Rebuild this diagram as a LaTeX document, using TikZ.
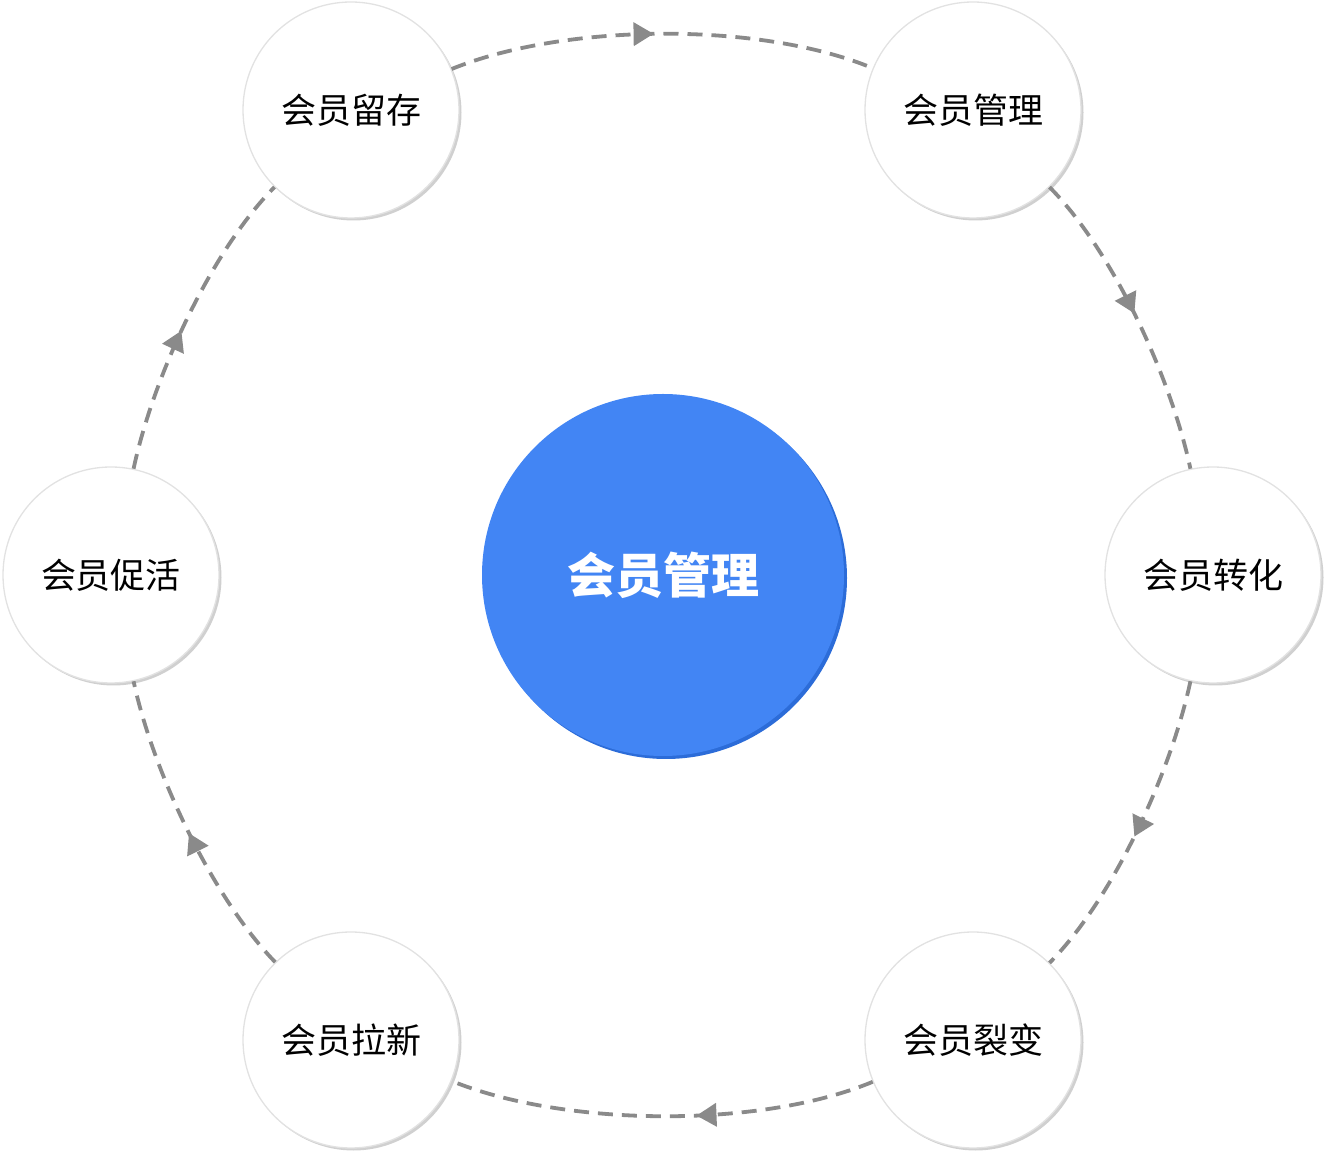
\documentclass[tikz,border=0pt]{standalone}
\usepackage{fontspec}
\setmainfont{Noto Sans CJK SC}
\usetikzlibrary{arrows.meta,decorations.markings,shadows}
\definecolor{ringgray}{HTML}{8A8A8A}
\definecolor{bordergray}{HTML}{E2E2E2}
\definecolor{shadowgray}{HTML}{D0D0D0}
\definecolor{mainblue}{HTML}{4285F4}
\definecolor{darkblue}{HTML}{2C6CD8}
\tikzset{
  stagenode/.style={circle, minimum size=216pt, inner sep=0pt, fill=white,
    draw=bordergray, line width=1.3pt,
    general shadow={shadow xshift=2.5pt, shadow yshift=-2.5pt, fill=shadowgray},
    font=\fontsize{35pt}{35pt}\selectfont, text=black},
  hubnode/.style={circle, minimum size=362pt, inner sep=0pt, fill=mainblue,
    general shadow={shadow xshift=3pt, shadow yshift=-3pt, fill=darkblue},
    font=\bfseries\fontsize{48pt}{48pt}\selectfont, text=white},
  flow/.style={draw=ringgray, line width=3.8pt, dash pattern=on 15pt off 9pt,
    looseness=0.74,
    postaction={decorate},
    decoration={markings, mark=at position #1 with
      {\arrow{Triangle[width=23pt,length=20pt,fill=ringgray,color=ringgray]}}}}
}
\begin{document}
\begin{tikzpicture}[x=1pt,y=1pt]
\useasboundingbox (0,0) rectangle (1326,1152);
\node[hubnode] (hub) at (663,577) {会员管理};
\node[stagenode] (liucun) at (351,1042) {会员留存};
\node[stagenode] (guanli) at (973,1042) {会员管理};
\node[stagenode] (zhuanhua) at (1213,577) {会员转化};
\node[stagenode] (liebian) at (973,112) {会员裂变};
\node[stagenode] (laxin) at (351,112) {会员拉新};
\node[stagenode] (cuhuo) at (111,577) {会员促活};
\path[flow=0.48] (liucun) to[out=22.3, in=157.7] (guanli);
\path[flow=0.48] (guanli) to[out=-45.5, in=102] (zhuanhua);
\path[flow=0.52] (zhuanhua) to[out=-102, in=45.5] (liebian);
\path[flow=0.42] (liebian) to[out=-157.7, in=-22.3] (laxin);
\path[flow=0.49] (laxin) to[out=134.5, in=-78] (cuhuo);
\path[flow=0.46] (cuhuo) to[out=78, in=225.5] (liucun);
\end{tikzpicture}
\end{document}
